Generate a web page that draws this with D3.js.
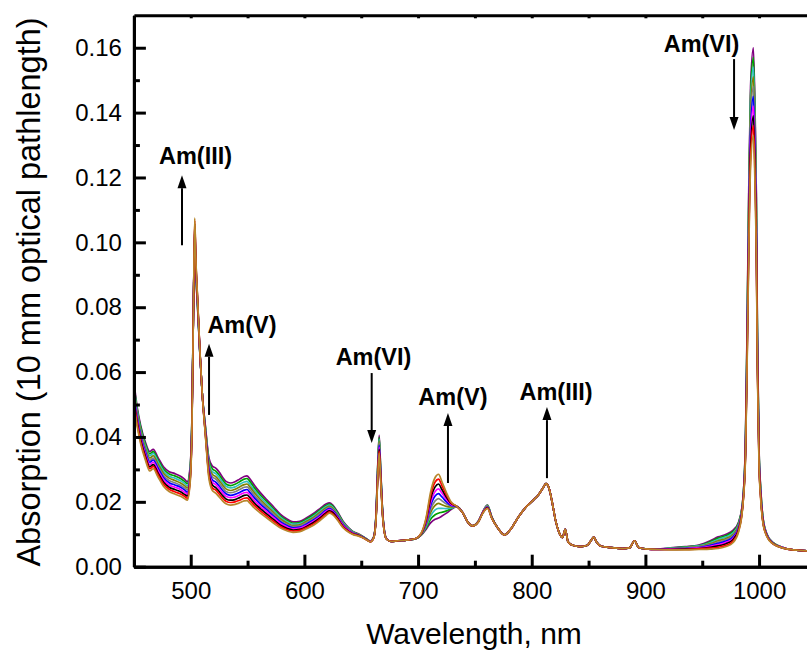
<!DOCTYPE html>
<html><head><meta charset="utf-8">
<script src="https://cdn.jsdelivr.net/npm/d3@7/dist/d3.min.js"></script>
<style>
html,body{margin:0;padding:0;background:#fff;}
svg{display:block;}
text{font-family:"Liberation Sans",Arial,Helvetica,sans-serif;fill:#000;}
</style></head><body>
<svg id="chart" width="807" height="650"></svg>
<script>
// ---- data ----
const wavelengths = [450,453,456,460,464,467,471,476,481,486,491,494.5,497,499.5,501,
502.5,503.5,504.5,506,508,510,
513,516,519,522,525,528,531,535,539,543,547,549.5,552,
556,561,567,573,579,585,590,596,602,608,614,619,622,625,
629,634,639,643,647,651,655,658,661,663,664.5,665.8,667,669,672,
676,682,690,698,703,707,711,715,718,721,725,729,734,739,744,748,753,757,761,765,770,
776,782,788,795,801,806,810,812.5,815,818,821,824,827,829.5,832,836,843,849,852,854.5,857,861,870,880,886,890.5,894,900,
910,922,935,947,957,964,971,977,982,985.5,988,989.5,991,992.5,995,996.7,997.6,998.6,1000,1001.5,1003.5,1007,1012,1018,1030,1050];

const spectrum01 = [.0570,.0490,.0435,.0385,.0355,.0362,.0338,.0308,.0293,.0287,.0279,.0270,.0262,.0310,.0450,
.0830,.1000,.0900,.0800,.0660,.0540,
.0430,.0335,.0310,.0304,.0292,.0276,.0263,.0258,.0262,.0270,.0278,.0280,.0271,
.0251,.0229,.0206,.0184,.0161,.0146,.0138,.0140,.0151,.0164,.0180,.0193,.0197,.0190,
.0170,.0140,.0120,.0108,.0102,.0094,.0085,.0079,.0092,.0160,.0310,.0405,.0310,.0160,.0088,
.0078,.0080,.0082,.0086,.0098,.0115,.0135,.0146,.0150,.0156,.0165,.0176,.0185,.0168,.0136,.0126,.0140,.0170,.0190,.0152,.0120,
.0098,.0118,.0152,.0184,.0204,.0222,.0243,.0256,.0244,.0198,.0142,.0106,.0090,.0115,.0076,.0066,.0062,.0066,.0080,.0091,.0076,.0063,.0059,.0056,.0058,.0080,.0059,.0055,
.0054,.0058,.0062,.0067,.0080,.0092,.0100,.0112,.0138,.0200,.0380,.0750,.1180,.1480,.1600,.1360,.1150,.0700,.0360,.0240,.0150,.0100,.0075,.0063,.0052,.0048];

const spectrum02 = [.0562,.0483,.0429,.0379,.0348,.0355,.0331,.0301,.0286,.0280,.0272,.0263,.0256,.0304,.0446,
.0830,.1008,.0906,.0803,.0661,.0540,
.0427,.0328,.0302,.0295,.0283,.0268,.0255,.0250,.0254,.0262,.0270,.0272,.0263,
.0243,.0222,.0200,.0178,.0156,.0142,.0134,.0136,.0147,.0160,.0176,.0189,.0193,.0187,
.0167,.0138,.0118,.0107,.0101,.0094,.0085,.0079,.0092,.0158,.0306,.0399,.0306,.0159,.0088,
.0078,.0080,.0082,.0086,.0099,.0119,.0146,.0160,.0165,.0168,.0172,.0179,.0185,.0168,.0136,.0126,.0140,.0169,.0189,.0152,.0120,
.0098,.0118,.0152,.0184,.0204,.0222,.0243,.0256,.0244,.0198,.0142,.0106,.0090,.0115,.0076,.0066,.0062,.0066,.0080,.0091,.0076,.0063,.0059,.0056,.0058,.0080,.0059,.0055,
.0054,.0057,.0061,.0065,.0077,.0088,.0096,.0108,.0135,.0198,.0374,.0737,.1158,.1452,.1570,.1334,.1129,.0688,.0354,.0236,.0148,.0099,.0075,.0063,.0052,.0048];

const spectrum03 = [.0554,.0477,.0422,.0373,.0342,.0349,.0325,.0295,.0279,.0273,.0265,.0257,.0249,.0299,.0441,
.0830,.1017,.0911,.0807,.0662,.0540,
.0423,.0321,.0293,.0287,.0275,.0260,.0248,.0243,.0246,.0254,.0261,.0263,.0254,
.0235,.0215,.0194,.0173,.0152,.0138,.0131,.0133,.0143,.0156,.0172,.0185,.0190,.0183,
.0164,.0136,.0117,.0106,.0100,.0093,.0084,.0079,.0091,.0157,.0301,.0393,.0302,.0157,.0088,
.0078,.0080,.0082,.0086,.0100,.0123,.0156,.0175,.0180,.0180,.0179,.0181,.0185,.0168,.0136,.0126,.0140,.0169,.0188,.0151,.0120,
.0098,.0118,.0152,.0184,.0204,.0222,.0243,.0256,.0244,.0198,.0142,.0106,.0090,.0115,.0076,.0066,.0062,.0066,.0080,.0091,.0076,.0063,.0059,.0056,.0058,.0080,.0059,.0055,
.0054,.0057,.0060,.0064,.0074,.0084,.0092,.0104,.0131,.0196,.0369,.0723,.1136,.1424,.1540,.1309,.1108,.0676,.0349,.0232,.0146,.0098,.0074,.0063,.0052,.0048];

const spectrum04 = [.0547,.0470,.0416,.0367,.0335,.0342,.0318,.0288,.0273,.0266,.0258,.0250,.0243,.0293,.0437,
.0830,.1025,.0917,.0810,.0663,.0540,
.0420,.0314,.0285,.0278,.0266,.0252,.0240,.0235,.0239,.0246,.0253,.0255,.0246,
.0228,.0208,.0187,.0167,.0147,.0134,.0127,.0129,.0140,.0152,.0168,.0181,.0186,.0180,
.0161,.0133,.0115,.0105,.0100,.0093,.0084,.0078,.0091,.0155,.0297,.0387,.0298,.0156,.0087,
.0078,.0080,.0082,.0086,.0100,.0127,.0167,.0189,.0195,.0191,.0186,.0184,.0185,.0168,.0136,.0126,.0139,.0168,.0187,.0151,.0120,
.0098,.0118,.0152,.0184,.0204,.0222,.0243,.0256,.0244,.0198,.0142,.0106,.0090,.0115,.0076,.0066,.0062,.0066,.0080,.0091,.0076,.0063,.0059,.0056,.0058,.0080,.0059,.0055,
.0054,.0056,.0059,.0062,.0071,.0080,.0087,.0099,.0128,.0193,.0363,.0710,.1113,.1397,.1510,.1283,.1087,.0663,.0343,.0228,.0144,.0097,.0074,.0062,.0052,.0048];

const spectrum05 = [.0539,.0463,.0410,.0361,.0328,.0335,.0311,.0281,.0266,.0259,.0251,.0243,.0237,.0288,.0432,
.0830,.1033,.0922,.0813,.0664,.0540,
.0417,.0307,.0277,.0270,.0258,.0244,.0232,.0228,.0231,.0238,.0245,.0246,.0238,
.0220,.0201,.0181,.0162,.0142,.0130,.0124,.0126,.0136,.0148,.0164,.0177,.0183,.0177,
.0158,.0131,.0114,.0104,.0099,.0092,.0084,.0078,.0091,.0153,.0292,.0381,.0294,.0155,.0087,
.0078,.0080,.0082,.0086,.0101,.0131,.0177,.0203,.0210,.0203,.0193,.0187,.0185,.0168,.0136,.0126,.0139,.0168,.0186,.0150,.0120,
.0098,.0118,.0152,.0184,.0204,.0222,.0243,.0256,.0244,.0198,.0142,.0106,.0090,.0115,.0076,.0066,.0062,.0066,.0080,.0091,.0076,.0063,.0059,.0056,.0058,.0080,.0059,.0055,
.0054,.0055,.0058,.0061,.0068,.0076,.0083,.0095,.0125,.0191,.0358,.0697,.1091,.1369,.1480,.1258,.1066,.0651,.0338,.0224,.0142,.0096,.0073,.0062,.0052,.0048];

const spectrum06 = [.0531,.0457,.0403,.0354,.0322,.0329,.0305,.0275,.0259,.0252,.0245,.0237,.0230,.0282,.0428,
.0830,.1042,.0928,.0817,.0666,.0540,
.0413,.0300,.0268,.0261,.0249,.0235,.0225,.0220,.0223,.0229,.0236,.0238,.0229,
.0212,.0194,.0175,.0156,.0138,.0126,.0120,.0122,.0132,.0144,.0159,.0174,.0179,.0173,
.0156,.0129,.0112,.0103,.0098,.0092,.0083,.0078,.0090,.0152,.0288,.0374,.0291,.0153,.0087,
.0078,.0080,.0082,.0087,.0102,.0134,.0188,.0218,.0225,.0215,.0200,.0189,.0186,.0168,.0136,.0126,.0139,.0167,.0184,.0150,.0120,
.0098,.0118,.0152,.0184,.0204,.0222,.0243,.0256,.0244,.0198,.0142,.0106,.0090,.0115,.0076,.0066,.0062,.0066,.0080,.0091,.0076,.0063,.0059,.0056,.0058,.0080,.0059,.0055,
.0053,.0055,.0056,.0059,.0066,.0072,.0079,.0091,.0121,.0189,.0352,.0683,.1069,.1341,.1450,.1232,.1044,.0639,.0332,.0221,.0140,.0096,.0073,.0062,.0052,.0048];

const spectrum07 = [.0523,.0450,.0397,.0348,.0315,.0322,.0298,.0268,.0252,.0245,.0238,.0230,.0224,.0277,.0423,
.0830,.1050,.0933,.0820,.0667,.0540,
.0410,.0293,.0260,.0253,.0241,.0227,.0217,.0213,.0215,.0221,.0228,.0229,.0221,
.0204,.0187,.0169,.0151,.0133,.0122,.0117,.0119,.0128,.0140,.0155,.0170,.0176,.0170,
.0153,.0127,.0111,.0102,.0097,.0091,.0083,.0078,.0090,.0150,.0283,.0368,.0287,.0152,.0087,
.0078,.0080,.0082,.0087,.0103,.0138,.0198,.0232,.0240,.0227,.0207,.0192,.0186,.0168,.0136,.0126,.0139,.0167,.0183,.0149,.0120,
.0098,.0118,.0152,.0184,.0204,.0222,.0243,.0256,.0244,.0198,.0142,.0106,.0090,.0115,.0076,.0066,.0062,.0066,.0080,.0091,.0076,.0063,.0059,.0056,.0058,.0080,.0059,.0055,
.0053,.0054,.0055,.0058,.0063,.0068,.0075,.0087,.0118,.0187,.0347,.0670,.1047,.1313,.1420,.1207,.1023,.0627,.0327,.0217,.0138,.0095,.0072,.0062,.0052,.0048];

const spectrum08 = [.0515,.0443,.0391,.0342,.0308,.0315,.0291,.0261,.0245,.0238,.0231,.0223,.0218,.0271,.0419,
.0830,.1058,.0939,.0823,.0668,.0540,
.0407,.0286,.0252,.0244,.0232,.0219,.0209,.0205,.0207,.0213,.0220,.0221,.0213,
.0196,.0180,.0162,.0145,.0128,.0118,.0113,.0115,.0124,.0136,.0151,.0166,.0172,.0167,
.0150,.0124,.0109,.0101,.0097,.0091,.0083,.0077,.0090,.0148,.0279,.0362,.0283,.0151,.0086,
.0078,.0080,.0082,.0087,.0103,.0142,.0209,.0246,.0255,.0238,.0214,.0195,.0186,.0168,.0136,.0126,.0138,.0166,.0182,.0149,.0120,
.0098,.0118,.0152,.0184,.0204,.0222,.0243,.0256,.0244,.0198,.0142,.0106,.0090,.0115,.0076,.0066,.0062,.0066,.0080,.0091,.0076,.0063,.0059,.0056,.0058,.0080,.0059,.0055,
.0053,.0053,.0054,.0056,.0060,.0064,.0071,.0083,.0115,.0184,.0341,.0657,.1024,.1286,.1390,.1181,.1002,.0615,.0321,.0213,.0136,.0094,.0072,.0061,.0052,.0048];

const spectrum09 = [.0508,.0437,.0384,.0336,.0302,.0309,.0285,.0255,.0239,.0231,.0224,.0217,.0211,.0266,.0414,
.0830,.1067,.0944,.0827,.0669,.0540,
.0403,.0279,.0243,.0236,.0224,.0211,.0202,.0198,.0200,.0205,.0211,.0212,.0204,
.0189,.0173,.0156,.0140,.0124,.0114,.0110,.0112,.0121,.0132,.0147,.0162,.0169,.0163,
.0147,.0122,.0108,.0100,.0096,.0090,.0082,.0077,.0089,.0147,.0274,.0356,.0279,.0149,.0086,
.0078,.0080,.0082,.0087,.0104,.0146,.0219,.0261,.0270,.0250,.0221,.0197,.0186,.0168,.0136,.0126,.0138,.0166,.0181,.0148,.0120,
.0098,.0118,.0152,.0184,.0204,.0222,.0243,.0256,.0244,.0198,.0142,.0106,.0090,.0115,.0076,.0066,.0062,.0066,.0080,.0091,.0076,.0063,.0059,.0056,.0058,.0080,.0059,.0055,
.0053,.0053,.0053,.0055,.0057,.0060,.0066,.0078,.0111,.0182,.0336,.0643,.1002,.1258,.1360,.1156,.0981,.0602,.0316,.0209,.0134,.0093,.0071,.0061,.0052,.0048];

const spectrum10 = [.0500,.0430,.0378,.0330,.0295,.0302,.0278,.0248,.0232,.0224,.0217,.0210,.0205,.0260,.0410,
.0830,.1075,.0950,.0830,.0670,.0540,
.0400,.0272,.0235,.0227,.0215,.0203,.0194,.0190,.0192,.0197,.0203,.0204,.0196,
.0181,.0166,.0150,.0134,.0119,.0110,.0106,.0108,.0117,.0128,.0143,.0158,.0165,.0160,
.0144,.0120,.0106,.0099,.0095,.0090,.0082,.0077,.0089,.0145,.0270,.0350,.0275,.0148,.0086,
.0078,.0080,.0082,.0087,.0105,.0150,.0230,.0275,.0285,.0262,.0228,.0200,.0186,.0168,.0136,.0126,.0138,.0165,.0180,.0148,.0120,
.0098,.0118,.0152,.0184,.0204,.0222,.0243,.0256,.0244,.0198,.0142,.0106,.0090,.0115,.0076,.0066,.0062,.0066,.0080,.0091,.0076,.0063,.0059,.0056,.0058,.0080,.0059,.0055,
.0053,.0052,.0052,.0053,.0054,.0056,.0062,.0074,.0108,.0180,.0330,.0630,.0980,.1230,.1330,.1130,.0960,.0590,.0310,.0205,.0132,.0092,.0071,.0061,.0052,.0048];

const xTickValues = [500, 600, 700, 800, 900, 1000];
const xMinorTickValues = [550, 650, 750, 850, 950];
const yTickValues = [0, 0.02, 0.04, 0.06, 0.08, 0.10, 0.12, 0.14, 0.16];
const yMinorTickValues = [0.01, 0.03, 0.05, 0.07, 0.09, 0.11, 0.13, 0.15];
const xTitle = "Wavelength, nm";
const yTitle = "Absorption (10 mm optical pathlength)";

// annotation labels with arrows (wavelength, absorbance from -> to)
const annotationLabels = ["Am(III)", "Am(V)", "Am(VI)", "Am(V)", "Am(III)", "Am(VI)"];
const annotationArrowWl = [492.3, 516.1, 659.2, 726.3, 813.4, 978.0];
const annotationArrowFrom = [0.0991, 0.0468, 0.0597, 0.0258, 0.0273, 0.1565];
const annotationArrowTo = [0.1207, 0.0687, 0.0381, 0.0474, 0.0492, 0.1346];
const annotationTextWl = [504.2, 545.1, 660.8, 730.7, 821.4, 949.4];
const annotationTextAbs = [0.1241, 0.0720, 0.0622, 0.0498, 0.0514, 0.1588];

// ---- drawing ----
const spectra = [spectrum01, spectrum02, spectrum03, spectrum04, spectrum05,
                 spectrum06, spectrum07, spectrum08, spectrum09, spectrum10];
const lineColors = ['#800080', '#00a000', '#30c0c0', '#808000', '#808080',
                    '#0000ff', '#ff00ff', '#000000', '#ff0000', '#b8862b'];

const svg = d3.select('#chart');
const x = d3.scaleLinear().domain([450, 1050]).range([133.9, 815.9]);
const y = d3.scaleLinear().domain([0, 0.17]).range([566.7, 15.3]);

svg.append('defs').append('clipPath').attr('id', 'plotclip')
  .append('rect').attr('x', x(450)).attr('y', y(0.17))
  .attr('width', x(1050) - x(450)).attr('height', y(0) - y(0.17));

const line = d3.line().curve(d3.curveMonotoneX)
  .x(d => x(d[0])).y(d => y(d[1]));

const gLines = svg.append('g').attr('clip-path', 'url(#plotclip)');
spectra.forEach((s, i) => {
  const pts = wavelengths.map((w, j) => [w, s[j]]);
  gLines.append('path').attr('d', line(pts))
    .attr('fill', 'none').attr('stroke', lineColors[i])
    .attr('stroke-width', 1.7).attr('stroke-linejoin', 'round');
});

function styleAxis(g) {
  g.selectAll('.domain').attr('stroke', '#000').attr('stroke-width', 3);
  g.selectAll('.tick line').attr('stroke', '#000').attr('stroke-width', 3);
  g.selectAll('.tick text').attr('font-size', 24).attr('font-family', '"Liberation Sans", Arial, sans-serif');
}

// bottom axis
const gxMinor = svg.append('g').attr('transform', `translate(0,${y(0)})`)
  .call(d3.axisBottom(x).tickValues(xMinorTickValues).tickSize(-6).tickSizeOuter(0).tickFormat(''));
styleAxis(gxMinor);
const gx = svg.append('g').attr('transform', `translate(0,${y(0)})`)
  .call(d3.axisBottom(x).tickValues(xTickValues).tickSize(-12).tickSizeOuter(0).tickPadding(15).tickFormat(d3.format('d')));
styleAxis(gx);

// top axis (mirror, no labels)
const gTop = svg.append('g').attr('transform', `translate(0,${y(0.17)})`)
  .call(d3.axisTop(x).tickValues(xTickValues.concat(xMinorTickValues)).tickSize(-3).tickSizeOuter(0).tickFormat(''));
styleAxis(gTop);

// left axis
const gyMinor = svg.append('g').attr('transform', `translate(${x(450)},0)`)
  .call(d3.axisLeft(y).tickValues(yMinorTickValues).tickSize(-6).tickSizeOuter(0).tickFormat(''));
styleAxis(gyMinor);
const gy = svg.append('g').attr('transform', `translate(${x(450)},0)`)
  .call(d3.axisLeft(y).tickValues(yTickValues).tickSize(-12).tickSizeOuter(0).tickPadding(12).tickFormat(d3.format('.2f')));
styleAxis(gy);

// axis titles
svg.append('text').attr('x', 474).attr('y', 644)
  .attr('text-anchor', 'middle').attr('font-size', 30).text(xTitle);
svg.append('text').attr('transform', 'translate(40,292) rotate(-90)')
  .attr('text-anchor', 'middle').attr('font-size', 32.5).text(yTitle);

// annotations
const gAnn = svg.append('g');
annotationLabels.forEach((lab, i) => {
  const ax = x(annotationArrowWl[i]);
  const y0 = y(annotationArrowFrom[i]);
  const y1 = y(annotationArrowTo[i]);
  const dir = y1 < y0 ? -1 : 1;
  const headLen = 13, headHalf = 4.5;
  gAnn.append('line').attr('x1', ax).attr('x2', ax)
    .attr('y1', y0).attr('y2', y1 - dir * headLen)
    .attr('stroke', '#000').attr('stroke-width', 2);
  gAnn.append('path')
    .attr('d', `M${ax},${y1}L${ax - headHalf},${y1 - dir * headLen}L${ax + headHalf},${y1 - dir * headLen}Z`)
    .attr('fill', '#000');
  gAnn.append('text').attr('x', x(annotationTextWl[i])).attr('y', y(annotationTextAbs[i]))
    .attr('text-anchor', 'middle').attr('font-size', 23.5).attr('font-weight', 'bold')
    .text(lab);
});
</script>
</body></html>
